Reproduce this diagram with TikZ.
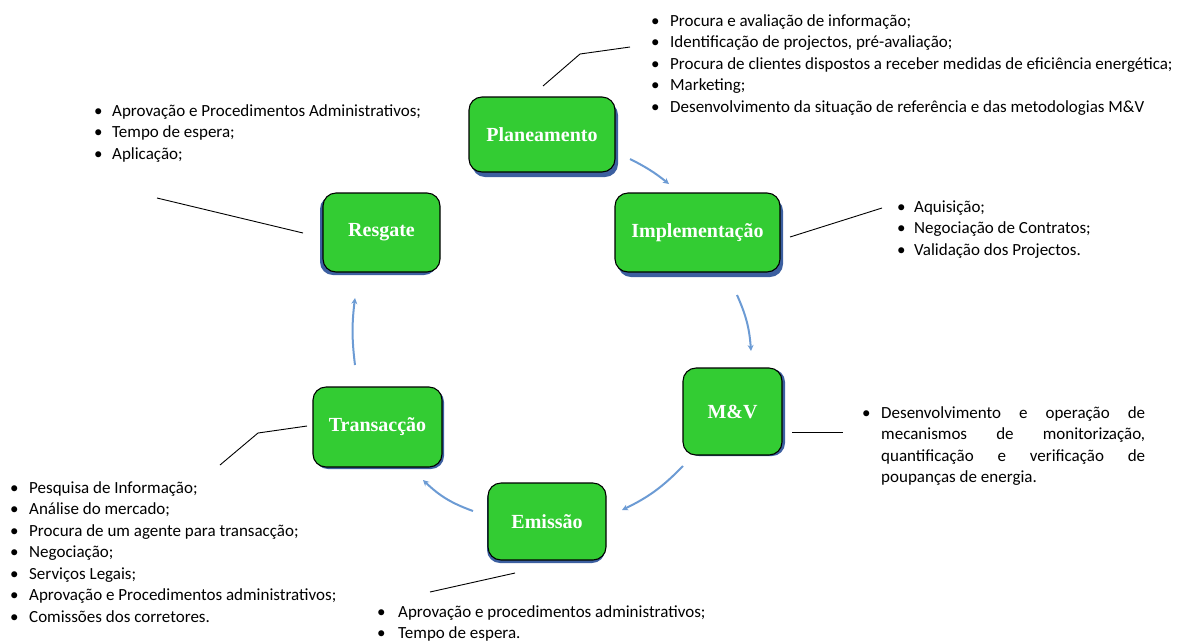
\documentclass[tikz,border=0pt]{standalone}
\usepackage{fontspec}
\setmainfont{Carlito}
\newfontfamily\boxfont{Liberation Serif}
\usetikzlibrary{shadows,arrows.meta}
\definecolor{boxgreen}{RGB}{51,204,51}
\definecolor{shadowblue}{RGB}{60,95,160}
\definecolor{arrowblue}{RGB}{108,155,212}
\newcommand{\bul}[1]{\makebox[#1][l]{•}}
\begin{document}
\begin{tikzpicture}[x=1pt,y=-1pt,
  stage/.style={draw=black, line width=1.1pt, fill=boxgreen, rounded corners=13pt,
    text=white, inner sep=0pt, font=\boxfont\bfseries\fontsize{20}{24}\selectfont},
  sh/.style 2 args={general shadow={fill=shadowblue, shadow xshift=#1pt, shadow yshift=#2pt}},
  listtext/.style={inner sep=0pt, anchor=base west, font=\fontsize{17}{21.5}\selectfont},
  callout/.style={draw=black, line width=0.9pt},
  cycarrow/.style={draw=arrowblue, line width=2pt, -{Stealth[length=6pt,width=6pt]}, bend left=#1}
]
\useasboundingbox (0,0) rectangle (1182,641);

% stages
\node[stage, sh={3}{-5}, minimum width=146pt, minimum height=75pt] (plan) at (542,134.5) {Planeamento};
\node[stage, sh={3}{-5}, minimum width=165pt, minimum height=79pt] (impl) at (697.5,232.5) {Implementação};
\node[stage, sh={-3}{-3}, minimum width=117pt, minimum height=79pt] (resg) at (381.5,232.5) {Resgate};
\node[stage, sh={3}{-1}, minimum width=99pt, minimum height=87pt] (mv) at (732.5,411.5) {M\&V};
\node[stage, sh={2}{-2}, minimum width=129pt, minimum height=80pt] (trans) at (377.5,427) {Transacção};
\node[stage, sh={-1}{-3}, minimum width=118pt, minimum height=77pt] (emis) at (547,521.5) {Emissão};

% cycle arrows
\coordinate (a1s) at (630,159); \coordinate (a1e) at (669,184);
\coordinate (a2s) at (737,295); \coordinate (a2e) at (751,351);
\coordinate (a3s) at (683,466); \coordinate (a3e) at (622,510);
\coordinate (a4s) at (473,511); \coordinate (a4e) at (423,480);
\coordinate (a5s) at (355,365); \coordinate (a5e) at (355,298);
\draw[cycarrow=6] (a1s) to (a1e);
\draw[cycarrow=10] (a2s) to (a2e);
\draw[cycarrow=10] (a3s) to (a3e);
\draw[cycarrow=12] (a4s) to (a4e);
\draw[cycarrow=7] (a5s) to (a5e);

% lists
\node[listtext] (lplan) at (651,26) {\begin{tabular}[t]{@{}l@{}}
\bul{19pt}Procura e avaliação de informação;\\
\bul{19pt}Identificação de projectos, pré-avaliação;\\
\bul{19pt}Procura de clientes dispostos a receber medidas de eficiência energética;\\
\bul{19pt}Marketing;\\
\bul{19pt}Desenvolvimento da situação de referência e das metodologias M\&V
\end{tabular}};

\node[listtext] (lresg) at (94,116) {\begin{tabular}[t]{@{}l@{}}
\bul{18pt}Aprovação e Procedimentos Administrativos;\\
\bul{18pt}Tempo de espera;\\
\bul{18pt}Aplicação;
\end{tabular}};

\node[listtext] (limpl) at (897,212) {\begin{tabular}[t]{@{}l@{}}
\bul{17pt}Aquisição;\\
\bul{17pt}Negociação de Contratos;\\
\bul{17pt}Validação dos Projectos.
\end{tabular}};

\node[listtext] (lmv) at (862,418) {\begin{tabular}[t]{@{}l@{}}
\bul{19pt}\makebox[264pt][s]{Desenvolvimento e operação de}\\
\hspace*{19pt}\makebox[264pt][s]{mecanismos de monitorização,}\\
\hspace*{19pt}\makebox[264pt][s]{quantificação e verificação de}\\
\hspace*{19pt}poupanças de energia.
\end{tabular}};

\node[listtext] (ltrans) at (10,493) {\begin{tabular}[t]{@{}l@{}}
\bul{19pt}Pesquisa de Informação;\\
\bul{19pt}Análise do mercado;\\
\bul{19pt}Procura de um agente para transacção;\\
\bul{19pt}Negociação;\\
\bul{19pt}Serviços Legais;\\
\bul{19pt}Aprovação e Procedimentos administrativos;\\
\bul{19pt}Comissões dos corretores.
\end{tabular}};

\node[listtext] (lemis) at (377,617) {\begin{tabular}[t]{@{}l@{}}
\bul{21pt}Aprovação e procedimentos administrativos;\\
\bul{21pt}Tempo de espera.
\end{tabular}};

% callout lines
\coordinate (cp1) at (543,86); \coordinate (cp2) at (580,54); \coordinate (cp3) at (630,47);
\draw[callout] (cp1) -- (cp2) -- (cp3);
\coordinate (ci1) at (790,237); \coordinate (ci2) at (882,208);
\draw[callout] (ci1) -- (ci2);
\coordinate (cr1) at (303,233); \coordinate (cr2) at (157,198);
\draw[callout] (cr1) -- (cr2);
\coordinate (cm1) at (792,432); \coordinate (cm2) at (843,432);
\draw[callout] (cm1) -- (cm2);
\coordinate (ct1) at (307,426); \coordinate (ct2) at (258,433); \coordinate (ct3) at (220,465);
\draw[callout] (ct1) -- (ct2) -- (ct3);
\coordinate (ce1) at (515,573); \coordinate (ce2) at (430,592);
\draw[callout] (ce1) -- (ce2);
\end{tikzpicture}
\end{document}
